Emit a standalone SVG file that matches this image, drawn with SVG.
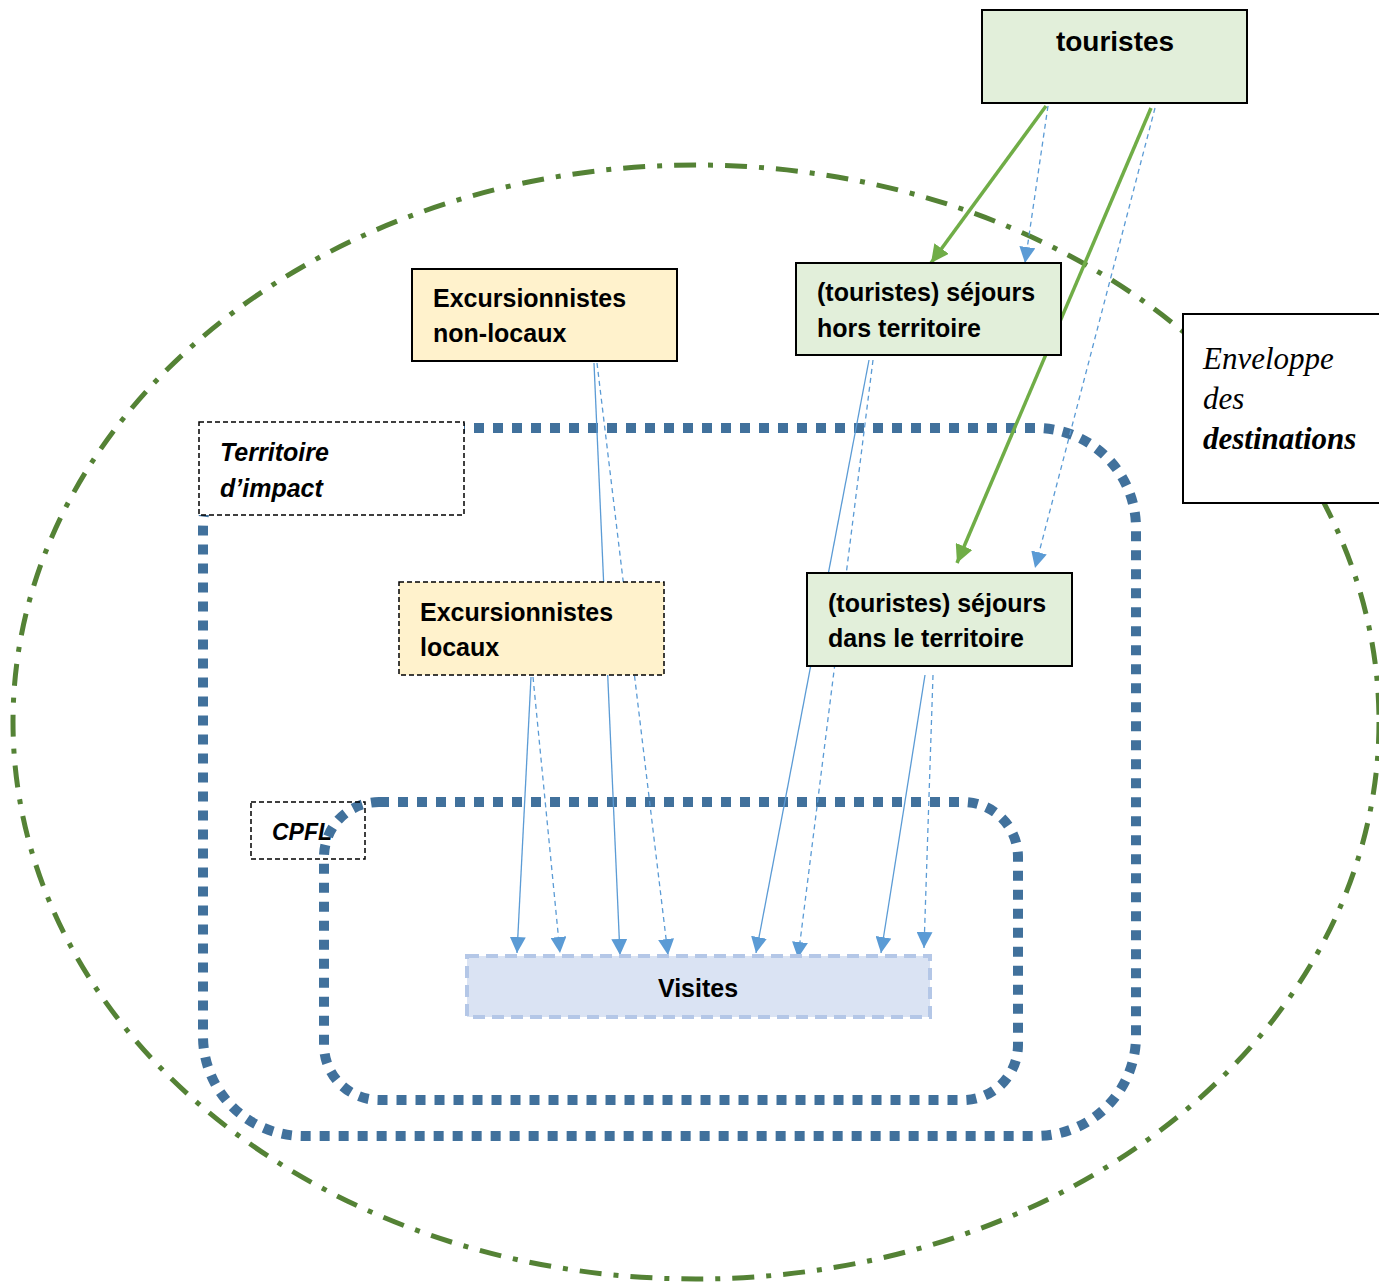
<svg xmlns="http://www.w3.org/2000/svg" width="1379" height="1283" viewBox="0 0 1379 1283">
<style>
.lbl{font-family:"Liberation Sans",Arial,sans-serif;font-weight:bold;font-size:25px;fill:#000}
.it{font-style:italic}
.env{font-family:"Liberation Serif","Times New Roman",serif;font-style:italic;font-size:31px;fill:#000}
.box{stroke:#000;stroke-width:2}
.green{fill:#e2efda}
.yellow{fill:#fff2cc}
.dash{stroke-dasharray:5 3;stroke-width:1.5}
.cg{stroke:#70ad47;stroke-width:3.5;fill:none}
.cb{stroke:#5b9bd5;stroke-width:1.3;fill:none}
.cbd{stroke:#5b9bd5;stroke-width:1.3;fill:none;stroke-dasharray:5 4}
.terr{fill:none;stroke:#41719c;stroke-width:10;stroke-dasharray:10 9}
</style>
<defs>
<marker id="ab" viewBox="0 0 10 10" refX="10" refY="5" markerWidth="16" markerHeight="16" markerUnits="userSpaceOnUse" orient="auto"><path d="M0,0 L10,5 L0,10 z" fill="#5b9bd5"/></marker>
<marker id="ag" viewBox="0 0 10 10" refX="10" refY="5" markerWidth="18" markerHeight="18" markerUnits="userSpaceOnUse" orient="auto"><path d="M0,0 L10,5 L0,10 z" fill="#70ad47"/></marker>
</defs>
<rect width="1379" height="1283" fill="#fff"/>
<g id="enveloppe">
<ellipse cx="696" cy="722" rx="683" ry="557" fill="none" stroke="#548235" stroke-width="5" stroke-dasharray="22 12 5 12"/>
</g>
<g id="territoire-zone">
<rect x="203" y="428" width="933" height="708" rx="100" ry="100" class="terr"/>
</g>
<g id="cpfl-zone">
<rect x="324" y="802" width="694" height="298" rx="55" ry="55" class="terr"/>
</g>
<g id="connectors">
<line x1="1046" y1="106" x2="931" y2="263" class="cg" marker-end="url(#ag)"/>
<line x1="1151" y1="108" x2="957" y2="563" class="cg" marker-end="url(#ag)"/>
<line x1="1048" y1="106" x2="1025" y2="263" class="cbd" marker-end="url(#ab)"/>
<line x1="1155" y1="108" x2="1035" y2="568" class="cbd" marker-end="url(#ab)"/>
<line x1="594" y1="363" x2="620" y2="955" class="cb" marker-end="url(#ab)"/>
<line x1="597" y1="363" x2="668" y2="955" class="cbd" marker-end="url(#ab)"/>
<line x1="531" y1="677" x2="517" y2="953" class="cb" marker-end="url(#ab)"/>
<line x1="533" y1="677" x2="560" y2="953" class="cbd" marker-end="url(#ab)"/>
<line x1="869" y1="360" x2="756" y2="953" class="cb" marker-end="url(#ab)"/>
<line x1="873" y1="360" x2="798" y2="958" class="cbd" marker-end="url(#ab)"/>
<line x1="925" y1="675" x2="881" y2="953" class="cb" marker-end="url(#ab)"/>
<line x1="933" y1="675" x2="924" y2="948" class="cbd" marker-end="url(#ab)"/>
</g>
<g id="touristes">
<rect x="982" y="10" width="265" height="93" class="box green"/>
<text x="1115" y="51" class="lbl" style="font-size:28px" text-anchor="middle">touristes</text>
</g>
<g id="excursionnistes-non-locaux">
<rect x="412" y="269" width="265" height="92" class="box yellow"/>
<text x="433" y="307" class="lbl">Excursionnistes</text>
<text x="433" y="342" class="lbl">non-locaux</text>
</g>
<g id="sejours-hors-territoire">
<rect x="796" y="263" width="265" height="92" class="box green"/>
<text x="817" y="301" class="lbl">(touristes) séjours</text>
<text x="817" y="337" class="lbl">hors territoire</text>
</g>
<g id="label-territoire">
<rect x="199" y="422" width="265" height="93" fill="#fff" stroke="#000" class="dash"/>
<text x="220" y="461" class="lbl it">Territoire</text>
<text x="220" y="497" class="lbl it">d’impact</text>
</g>
<g id="label-enveloppe">
<rect x="1183" y="314" width="200" height="189" fill="#fff" stroke="#000" stroke-width="2"/>
<text x="1203" y="369" class="env">Enveloppe</text>
<text x="1203" y="409" class="env">des</text>
<text x="1203" y="449" class="env" font-weight="bold">destinations</text>
</g>
<g id="excursionnistes-locaux">
<rect x="399" y="582" width="265" height="93" class="yellow" stroke="#000" style="stroke-dasharray:5 3;stroke-width:1.5"/>
<text x="420" y="621" class="lbl">Excursionnistes</text>
<text x="420" y="656" class="lbl">locaux</text>
</g>
<g id="sejours-dans-territoire">
<rect x="807" y="573" width="265" height="93" class="box green"/>
<text x="828" y="612" class="lbl">(touristes) séjours</text>
<text x="828" y="647" class="lbl">dans le territoire</text>
</g>
<g id="label-cpfl">
<rect x="251" y="802" width="114" height="57" fill="none" stroke="#000" class="dash"/>
<text x="272" y="840" class="lbl it" style="font-size:23px">CPFL</text>
</g>
<g id="visites">
<rect x="467" y="956" width="463" height="61" fill="#dae3f3" stroke="#b4c7e7" stroke-width="4" stroke-dasharray="12 7"/>
<text x="698" y="997" class="lbl" text-anchor="middle">Visites</text>
</g>
</svg>
